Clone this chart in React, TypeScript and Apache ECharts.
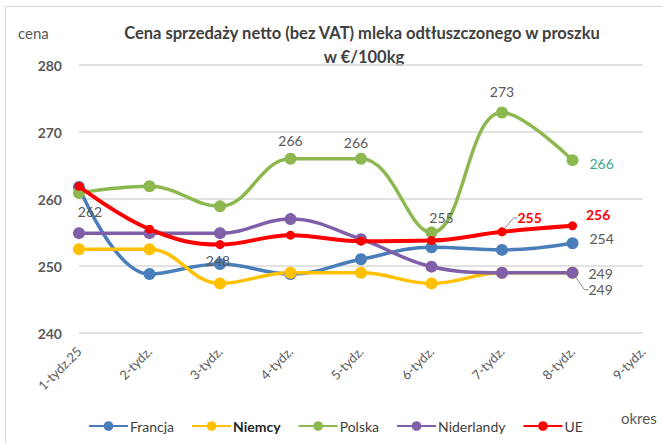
import React, { useEffect, useRef } from "react";
import * as echarts from "echarts";

const categories = ["1-tydz.25", "2-tydz.", "3-tydz.", "4-tydz.", "5-tydz.", "6-tydz.", "7-tydz.", "8-tydz.", "9-tydz."];
const yTicks = [240, 250, 260, 270, 280];
const francja = [261.8, 248.8, 250.3, 248.8, 251.0, 252.8, 252.4, 253.4];
const niemcy = [252.5, 252.5, 247.4, 249.0, 249.0, 247.4, 249.0, 249.0];
const polska = [260.9, 261.9, 258.9, 266.0, 266.0, 255.0, 272.9, 265.8];
const niderlandy = [254.9, 254.9, 254.9, 257.0, 254.0, 249.9, 249.0, 249.0];
const ue = [261.9, 255.5, 253.2, 254.6, 253.7, 253.8, 255.1, 256.0];

const FONT = "Lato, 'Open Sans', sans-serif";
const GRAY = "#595959";

type LabelSpec = { text: string; pos: string; dx?: number; dy?: number; color?: string; bold?: boolean; line?: boolean };

function mk(values: number[], labels: Record<number, LabelSpec>) {
  return values.map((v, i) => {
    const l = labels[i];
    if (!l) return v;
    const item: any = {
      value: v,
      label: {
        show: true,
        position: l.pos,
        formatter: l.text,
        color: l.color || GRAY,
        fontWeight: l.bold ? "bold" : "normal",
        fontSize: 14,
        fontFamily: FONT,
      },
    };
    if (l.line) {
      item.labelLine = { show: true, length2: 4, lineStyle: { color: "#8c8c8c", width: 1 } };
    }
    return item;
  });
}

function layoutFor(labels: Record<number, LabelSpec>) {
  return (p: any) => {
    const l = labels[p.dataIndex];
    if (l) return { dx: l.dx || 0, dy: l.dy || 0 };
    return {};
  };
}

export default function App() {
  const ref = useRef<HTMLDivElement>(null);
  useEffect(() => {
    const chart = echarts.init(ref.current!, null, { renderer: "svg" });
    const base = (name: string, color: string, values: number[], labels: Record<number, LabelSpec>, width: number, size: number, z: number) => ({
      name,
      type: "line",
      smooth: 0.4,
      data: mk(values, labels),
      z,
      symbol: "circle",
      symbolSize: size,
      itemStyle: { color },
      lineStyle: { color, width },
      label: { show: false },
      labelLayout: layoutFor(labels),
      emphasis: { disabled: true },
    });
    chart.setOption({
      animation: false,
      backgroundColor: "#ffffff",
      textStyle: { fontFamily: FONT },
      grid: { left: 79, right: 19, top: 65, bottom: 110, containLabel: false },
      xAxis: {
        type: "category",
        data: categories,
        boundaryGap: false,
        axisLine: { show: false },
        axisTick: { show: false },
        axisLabel: { rotate: 45, color: GRAY, fontSize: 13, fontFamily: FONT, margin: 16 },
      },
      yAxis: {
        type: "value",
        min: yTicks[0],
        max: yTicks[yTicks.length - 1],
        interval: 10,
        axisLine: { show: false },
        axisTick: { show: false },
        axisLabel: { color: GRAY, fontSize: 14, fontFamily: FONT, fontWeight: "bold", margin: 17 },
        splitLine: { lineStyle: { color: "#d9d9d9", width: 1.5 } },
      },
      legend: {
        left: 83,
        top: 414,
        itemWidth: 39,
        itemHeight: 12,
        itemGap: 17,
        textStyle: { color: "#404040", fontSize: 14, fontFamily: FONT, padding: [0, 0, 0, -3] },
        data: [
          { name: "Francja" },
          { name: "Niemcy", textStyle: { fontWeight: "bold", color: "#262626" } },
          { name: "Polska" },
          { name: "Niderlandy" },
          { name: "UE" },
        ],
      },
      graphic: [
        { type: "rect", shape: { x: 5.5, y: 6.5, width: 660, height: 440 }, style: { fill: "none", stroke: "#d9d9d9", lineWidth: 1 }, silent: true },
        { type: "text", x: 362, y: 33, style: { text: "Cena sprzedaży netto (bez VAT) mleka odtłuszczonego w proszku", fill: "#404040", font: `bold 16.5px ${FONT}`, textAlign: "center", textVerticalAlign: "middle" } },
        { type: "text", x: 364, y: 57, style: { text: "w €/100kg", fill: "#404040", font: `bold 16.5px ${FONT}`, textAlign: "center", textVerticalAlign: "middle" } },
        { type: "text", x: 18, y: 33, style: { text: "cena", fill: GRAY, font: `15px ${FONT}`, textVerticalAlign: "middle" } },
        { type: "text", x: 621, y: 418, style: { text: "okres", fill: GRAY, font: `15px ${FONT}`, textVerticalAlign: "middle" } },
      ],
      series: [
        base("Francja", "#4a7ebb", francja, {
          0: { text: "262", pos: "bottom", dx: 11, dy: 7 },
          2: { text: "248", pos: "inside", dx: -2, dy: -3 },
          7: { text: "254", pos: "right", dx: 6, dy: -5 },
        }, 3.5, 12, 2),
        base("Niemcy", "#ffc000", niemcy, {
          7: { text: "249", pos: "right", dx: 5, dy: 17, line: true },
        }, 3.5, 12, 2),
        base("Polska", "#8db850", polska, {
          3: { text: "266", pos: "top", dy: 0 },
          4: { text: "266", pos: "top", dx: -5, dy: 2 },
          5: { text: "255", pos: "top", dx: 10, dy: 3 },
          6: { text: "273", pos: "top", dy: -3 },
          7: { text: "266", pos: "right", dx: 6, dy: 3, color: "#3aa98a" },
        }, 3.5, 12, 2),
        base("Niderlandy", "#7f5fa8", niderlandy, {
          7: { text: "249", pos: "right", dx: 5, dy: 1 },
        }, 3.5, 12, 3),
        base("UE", "#ff0000", ue, {
          6: { text: "255", pos: "right", dx: 6, dy: -14, color: "#ff0000", bold: true, line: true },
          7: { text: "256", pos: "right", dx: 4, dy: -11, color: "#ff0000", bold: true },
        }, 4, 9, 4),
      ],
    });
    return () => chart.dispose();
  }, []);
  return <div ref={ref} style={{ position: "fixed", left: 0, top: 0, width: 662, height: 443 }} />;
}
